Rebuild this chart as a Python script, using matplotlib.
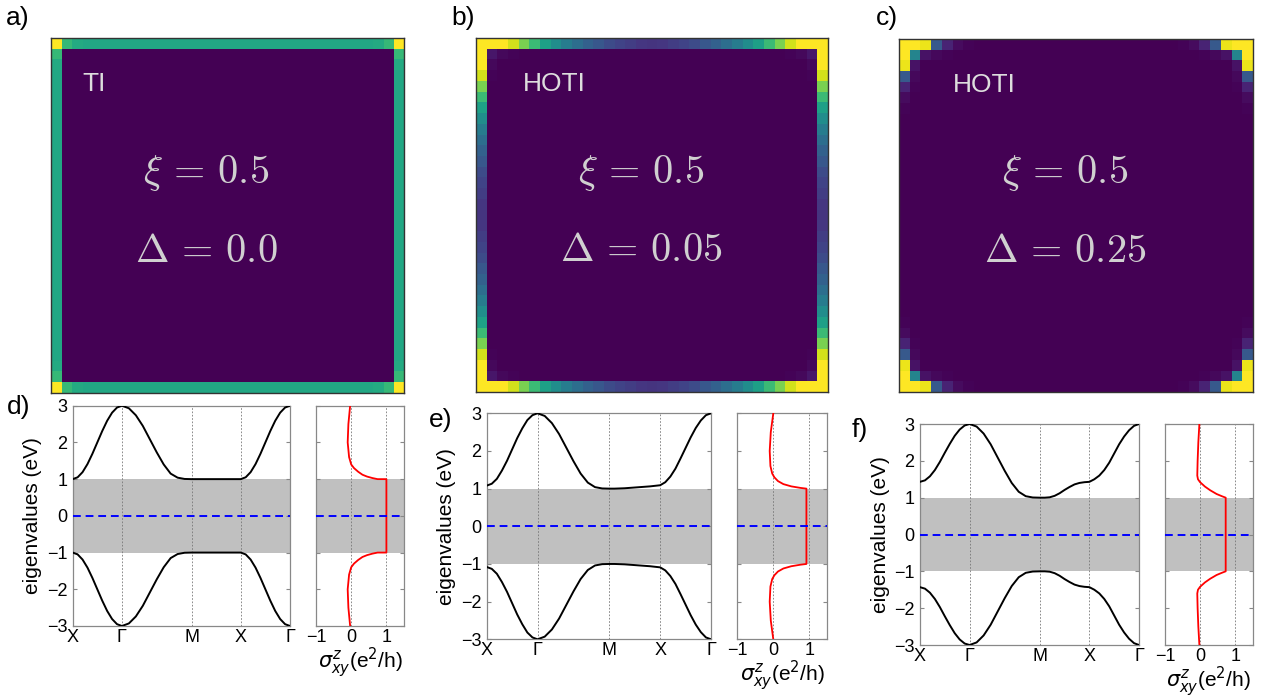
import numpy as np
import matplotlib
matplotlib.use("Agg")
import matplotlib.pyplot as plt

plt.rcParams['font.family'] = ['Liberation Sans', 'DejaVu Sans']

# ---- top row: edge weight maps (index 0 = corner, 16 = middle of an edge)
n_sites = 33
edge_a = [1.0, 0.67, 0.61, 0.6, 0.6, 0.6, 0.6, 0.6, 0.6, 0.6, 0.6, 0.6, 0.6, 0.6, 0.6, 0.6, 0.6]
ring2_a = [0.0] * 17
edge_b = [1.0, 1.0, 1.0, 0.93, 0.8, 0.68, 0.57, 0.49, 0.42, 0.36, 0.31, 0.27, 0.23, 0.2, 0.18, 0.16, 0.15]
ring2_b = [0.0, 0.06, 0.02, 0.01, 0.0, 0.0, 0.0, 0.0, 0.0, 0.0, 0.0, 0.0, 0.0, 0.0, 0.0, 0.0, 0.0]
edge_c = [1.0, 1.0, 0.97, 0.28, 0.1, 0.03, 0.01, 0.0, 0.0, 0.0, 0.0, 0.0, 0.0, 0.0, 0.0, 0.0, 0.0]
ring2_c = [0.0, 0.45, 0.05, 0.02, 0.01, 0.0, 0.0, 0.0, 0.0, 0.0, 0.0, 0.0, 0.0, 0.0, 0.0, 0.0, 0.0]

phase_names = ['TI', 'HOTI', 'HOTI']
xi_vals = ['0.5', '0.5', '0.5']
delta_vals = ['0.0', '0.05', '0.25']

# ---- bottom row: band structure along X-G-M-X-G (upper band, lower band is its mirror)
kpath = [0.0, 1.0, 2.414, 3.414, 4.414]
klabels = ['X', 'Γ', 'M', 'X', 'Γ']

band_d = [[1.0, 1.05, 1.19, 1.41, 1.69, 2.0, 2.31, 2.59, 2.81, 2.95, 3.0],
          [3.0, 2.93, 2.74, 2.45, 2.09, 1.73, 1.40, 1.15, 1.04, 1.005, 1.0],
          [1.0, 1.0, 1.0, 1.0, 1.0, 1.0, 1.0, 1.0, 1.0, 1.0, 1.0],
          [1.0, 1.05, 1.19, 1.41, 1.69, 2.0, 2.31, 2.59, 2.81, 2.95, 3.0]]
band_e = [[1.08, 1.13, 1.26, 1.48, 1.74, 2.04, 2.34, 2.60, 2.82, 2.95, 3.0],
          [3.0, 2.93, 2.74, 2.45, 2.09, 1.73, 1.40, 1.16, 1.04, 1.005, 1.0],
          [1.0, 1.0, 1.005, 1.01, 1.02, 1.03, 1.04, 1.05, 1.06, 1.075, 1.09],
          [1.09, 1.17, 1.32, 1.53, 1.80, 2.08, 2.36, 2.61, 2.81, 2.95, 3.0]]
band_f = [[1.43, 1.47, 1.58, 1.75, 1.97, 2.22, 2.46, 2.68, 2.85, 2.96, 3.0],
          [3.0, 2.93, 2.74, 2.45, 2.09, 1.73, 1.40, 1.16, 1.04, 1.005, 1.0],
          [1.0, 1.0, 1.01, 1.05, 1.12, 1.21, 1.29, 1.36, 1.40, 1.42, 1.43],
          [1.43, 1.50, 1.60, 1.75, 1.95, 2.2, 2.45, 2.66, 2.83, 2.95, 3.0]]

# spin Hall conductivity vs energy, upper tail (E from 3 down to 1), mirrored below
sig_E_d = [3.0, 2.5, 2.0, 1.6, 1.4, 1.3, 1.2, 1.12, 1.07, 1.03, 1.0, 1.0]
sig_d = [-0.03, -0.08, -0.1, -0.06, 0.0, 0.08, 0.2, 0.32, 0.45, 0.6, 0.75, 1.0]
sig_E_e = [3.0, 2.5, 2.0, 1.6, 1.4, 1.3, 1.2, 1.12, 1.06, 1.02, 1.0]
sig_e = [0.0, -0.07, -0.1, -0.08, -0.03, 0.03, 0.13, 0.28, 0.5, 0.75, 0.92]
sig_E_f = [3.0, 2.5, 2.0, 1.6, 1.5, 1.42, 1.3, 1.2, 1.1, 1.04, 1.0]
sig_f = [-0.02, -0.05, -0.07, -0.08, -0.06, 0.0, 0.14, 0.29, 0.47, 0.62, 0.73]

W, H = 1263, 698
fig = plt.figure(figsize=(W / 100, H / 100), dpi=100)


def rect(x0, y0, x1, y1):
    return [x0 / W, 1 - y1 / H, (x1 - x0) / W, (y1 - y0) / H]


def edge_map(edge, ring2, n=n_sites):
    m = np.zeros((n, n))
    for i in range(n):
        d = min(i, n - 1 - i)
        m[0, i] = m[-1, i] = m[i, 0] = m[i, -1] = edge[d]
    for i in range(1, n - 1):
        d = min(i, n - 1 - i)
        m[1, i] = m[-2, i] = m[i, 1] = m[i, -2] = ring2[d]
    return m


maps = [(edge_a, ring2_a), (edge_b, ring2_b), (edge_c, ring2_c)]
map_boxes = [(51, 38, 404, 393), (476, 38, 828, 392), (899, 39, 1253, 392)]
name_x = [0.088, 0.134, 0.152]
eq_x = [0.44, 0.468, 0.47]
for j in range(3):
    ax = fig.add_axes(rect(*map_boxes[j]))
    ax.imshow(edge_map(*maps[j]), cmap='viridis', vmin=0, vmax=1,
              interpolation='nearest', aspect='auto')
    ax.set_xticks([])
    ax.set_yticks([])
    for s in ax.spines.values():
        s.set_color('#333333')
        s.set_linewidth(1.0)
    ax.text(name_x[j], 0.87, phase_names[j], transform=ax.transAxes,
            color='#dddddd', fontsize=19, va='center', ha='left')
    ax.text(eq_x[j], 0.62, r'$\xi\,=\,%s$' % xi_vals[j], transform=ax.transAxes,
            color='#d0d0d0', fontsize=29, ha='center', va='center', math_fontfamily='cm')
    ax.text(eq_x[j], 0.40, r'$\Delta\,=\,%s$' % delta_vals[j], transform=ax.transAxes,
            color='#d0d0d0', fontsize=29, ha='center', va='center', math_fontfamily='cm')

bands = [band_d, band_e, band_f]
sigmas = [(sig_E_d, sig_d), (sig_E_e, sig_e), (sig_E_f, sig_f)]
band_boxes = [(72.7, 405.7, 290, 626), (486.7, 413.3, 711, 639.3), (920, 424, 1139, 645)]
sig_boxes = [(316, 405.7, 404, 626), (737.3, 413.3, 827.3, 639.3), (1165, 424, 1252.7, 645)]
grid_kw = dict(color='#777777', ls=(0, (2, 2)), lw=0.6, zorder=1)
spine_col = '#888888'


def style(ax):
    for s in ax.spines.values():
        s.set_color(spine_col)
        s.set_linewidth(0.9)
    ax.set_ylim(-3, 3)
    ax.set_yticks([-3, -2, -1, 0, 1, 2, 3])
    ax.tick_params(axis='y', direction='in', length=3, left=True, right=True,
                   color=spine_col, labelsize=13, pad=4)
    ax.tick_params(axis='x', length=0, labelsize=13, pad=2)


for j in range(3):
    segs = bands[j]
    k = []
    up = []
    for i in range(4):
        ks = np.linspace(kpath[i], kpath[i + 1], len(segs[i]))
        start = 0 if i == 0 else 1
        k += list(ks[start:])
        up += segs[i][start:]
    k = np.array(k)
    up = np.array(up)

    ax = fig.add_axes(rect(*band_boxes[j]))
    ax.axhspan(-1, 1, color='#c0c0c0', lw=0, zorder=0)
    for kx in kpath[1:-1]:
        ax.axvline(kx, **grid_kw)
    ax.plot(k, up, color='black', lw=1.4, zorder=3)
    ax.plot(k, -up, color='black', lw=1.4, zorder=3)
    ax.axhline(0, color='blue', ls=(0, (4, 2.5)), lw=1.4, zorder=4)
    ax.set_xlim(kpath[0], kpath[-1])
    ax.set_xticks(kpath)
    ax.set_xticklabels(klabels)
    ax.set_yticklabels(['−3', '−2', '−1', '0', '1', '2', '3'])
    ax.set_ylabel('eigenvalues (eV)', fontsize=15, labelpad=3)
    style(ax)

    e_tail, s_tail = sigmas[j]
    E_full = list(e_tail) + [-e for e in e_tail[::-1]]
    s_full = list(s_tail) + list(s_tail[::-1])
    ax2 = fig.add_axes(rect(*sig_boxes[j]))
    ax2.axhspan(-1, 1, color='#c0c0c0', lw=0, zorder=0)
    for sx in [0, 1]:
        ax2.axvline(sx, **grid_kw)
    ax2.plot(s_full, E_full, color='red', lw=1.3, zorder=3)
    ax2.axhline(0, color='blue', ls=(0, (4, 2.5)), lw=1.4, zorder=4)
    ax2.set_xlim(-1, 1.5)
    ax2.set_xticks([-1, 0, 1])
    ax2.set_xticklabels(['−1', '0', '1'])
    ax2.set_yticklabels([])
    ax2.set_xlabel(r'$\sigma^z_{xy}$(e$^2$/h)', fontsize=15, labelpad=0,
                   math_fontfamily='dejavusans')
    style(ax2)

panel_labels = [('a)', 18, 18), ('b)', 463, 18), ('c)', 887, 18),
                ('d)', 19, 407), ('e)', 441, 420), ('f)', 860, 430)]
for lab, px, py in panel_labels:
    fig.text(px / W, 1 - py / H, lab, fontsize=19, ha='center', va='center')

fig.savefig('out.png', dpi=100)
